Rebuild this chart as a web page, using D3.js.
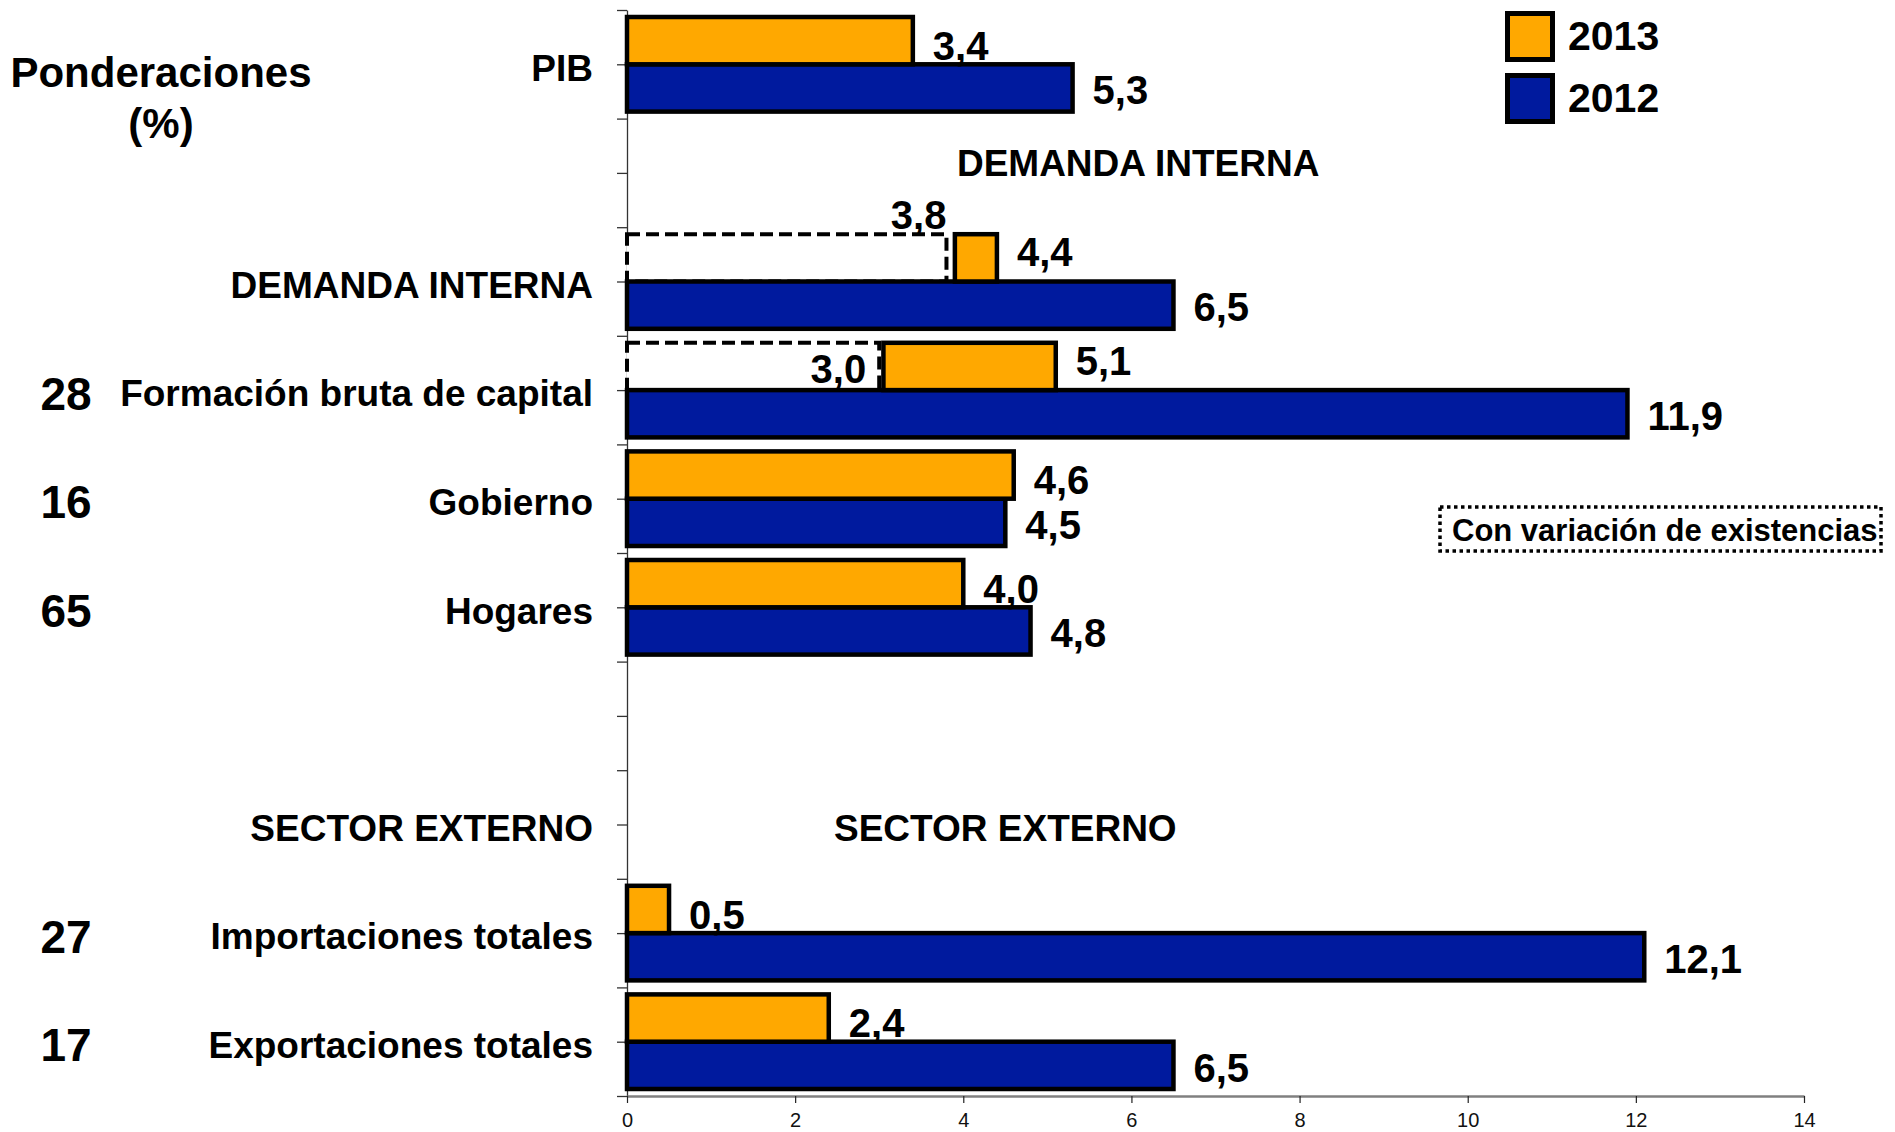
<!DOCTYPE html>
<html>
<head>
<meta charset="utf-8">
<script src="https://cdn.jsdelivr.net/npm/d3@7"></script>
<style>
  html, body { margin: 0; padding: 0; background: #fff; }
  svg { display: block; font-family: "Liberation Sans", Arial, sans-serif; }
</style>
</head>
<body>
<svg id="chart" width="1895" height="1132"></svg>
<script>
// ---- data ----
const categories = ["PIB", "", "DEMANDA INTERNA", "Formación bruta de capital", "Gobierno", "Hogares", "", "SECTOR EXTERNO", "Importaciones totales", "Exportaciones totales"];
const weights = [null, null, null, 28, 16, 65, null, null, 27, 17];
const values2013 = [3.4, null, 4.4, 5.1, 4.6, 4.0, null, null, 0.5, 2.4];
const values2012 = [5.3, null, 6.5, 11.9, 4.5, 4.8, null, null, 12.1, 6.5];
const sinVariacion2013 = [null, null, 3.8, 3.0, null, null, null, null, null, null];
const start2013 = [0, null, 3.9, 3.05, 0, 0, null, null, 0, 0];
const series = ["2013", "2012"];
const xTicks = [0, 2, 4, 6, 8, 10, 12, 14];
const weightTitle = ["Ponderaciones", "(%)"];
const noteText = "Con variación de existencias";
const sectionTitles = [
  { text: "DEMANDA INTERNA", cat: 1, value: 6.08 },
  { text: "SECTOR EXTERNO", cat: 7, value: 4.5 }
];

(function () {
// ---- styles ----
const colors = { "2013": "#FFA800", "2012": "#001A9E" };
const FONT = '"Liberation Sans", Arial, sans-serif';

const svg = d3.select("#chart");
const mLeft = 627, mRight = 1804, mTop = 10, mBottom = 1096;

const x = d3.scaleLinear().domain([0, 14]).range([mLeft, mRight]);
const idx = categories.map((d, i) => i);
const y = d3.scaleBand().domain(idx).range([mTop, mBottom]).paddingInner(0).paddingOuter(0);
const sub = d3.scaleBand().domain(series).range([7, y.bandwidth() - 7]).padding(0);
const rows = d3.scaleLinear().domain([0, categories.length * 2]).range([mTop, mBottom]);

const fmt = v => d3.format(".1f")(v).replace(".", ",");

// ---- axes ----
const yAxis = d3.axisLeft(rows)
  .tickValues(d3.range(0, categories.length * 2 + 1))
  .tickFormat("")
  .tickSize(10)
  .tickSizeOuter(0);
const gy = svg.append("g").attr("transform", `translate(${mLeft},0)`).call(yAxis);
gy.select(".domain").attr("stroke", "#333").attr("stroke-width", 1.3);
gy.selectAll(".tick line").attr("stroke", "#333").attr("stroke-width", 1.3);

const xAxis = d3.axisBottom(x).tickValues(xTicks).tickFormat(d3.format("d")).tickSize(7).tickSizeOuter(0).tickPadding(10);
const gx = svg.append("g").attr("transform", `translate(0,${mBottom})`).call(xAxis);
gx.select(".domain").attr("stroke", "#808080").attr("stroke-width", 2.5);
gx.selectAll(".tick line").attr("stroke", "#222").attr("stroke-width", 1.2);
gx.selectAll(".tick text").attr("font-family", FONT).attr("font-size", 20).attr("fill", "#111");

// ---- bars ----
const bars = svg.append("g");
const rec2012 = idx.filter(i => values2012[i] != null).map(i => ({ i, v: values2012[i], s: "2012" }));
const rec2013 = idx.filter(i => values2013[i] != null).map(i => ({ i, v: values2013[i], s: "2013", s0: start2013[i] }));

const dashed = idx.filter(i => sinVariacion2013[i] != null).map(i => ({ i, v: sinVariacion2013[i] }));
bars.selectAll("rect.dash").data(dashed).enter().append("rect")
  .attr("class", "dash")
  .attr("x", x(0))
  .attr("y", d => y(d.i) + sub("2013"))
  .attr("width", d => x(d.v) - x(0))
  .attr("height", sub.bandwidth())
  .attr("fill", "#fff")
  .attr("stroke", "#000")
  .attr("stroke-width", 4)
  .attr("stroke-dasharray", "13,6");

bars.selectAll("rect.b2012").data(rec2012).enter().append("rect")
  .attr("class", "b2012")
  .attr("x", x(0))
  .attr("y", d => y(d.i) + sub("2012"))
  .attr("width", d => x(d.v) - x(0))
  .attr("height", sub.bandwidth())
  .attr("fill", colors["2012"])
  .attr("stroke", "#000")
  .attr("stroke-width", 4.5);

bars.selectAll("rect.b2013").data(rec2013).enter().append("rect")
  .attr("class", "b2013")
  .attr("x", d => x(d.s0))
  .attr("y", d => y(d.i) + sub("2013"))
  .attr("width", d => x(d.v) - x(d.s0))
  .attr("height", sub.bandwidth())
  .attr("fill", colors["2013"])
  .attr("stroke", "#000")
  .attr("stroke-width", 4.5);

// ---- value labels ----
const labels = svg.append("g").attr("font-family", FONT).attr("font-weight", "bold").attr("font-size", 40).attr("fill", "#000");
const capOff = 40 * 0.358;
labels.selectAll("text.l2012").data(rec2012).enter().append("text")
  .attr("x", d => x(d.v) + 20)
  .attr("y", d => y(d.i) + sub("2012") + sub.bandwidth() / 2 + 2 + capOff)
  .text(d => fmt(d.v));
labels.selectAll("text.l2013").data(rec2013).enter().append("text")
  .attr("x", d => x(d.v) + 20)
  .attr("y", d => y(d.i) + sub("2013") + sub.bandwidth() / 2 + (sinVariacion2013[d.i] != null ? -6 : 5) + capOff)
  .text(d => fmt(d.v));
labels.selectAll("text.ldash").data(dashed).enter().append("text")
  .attr("text-anchor", "end")
  .attr("x", (d, k) => k === 0 ? x(d.v) : x(d.v) - 13)
  .attr("y", (d, k) => (k === 0 ? y(d.i) + sub("2013") - 20 : y(d.i) + sub("2013") + sub.bandwidth() / 2 + 2) + capOff)
  .text(d => fmt(d.v));

// ---- category labels ----
const catG = svg.append("g").attr("font-family", FONT).attr("font-weight", "bold").attr("fill", "#000");
catG.selectAll("text.cat").data(idx.filter(i => categories[i] !== "")).enter().append("text")
  .attr("text-anchor", "end")
  .attr("font-size", 37)
  .attr("x", mLeft - 34)
  .attr("y", i => y(i) + y.bandwidth() / 2 + 3 + 37 * 0.358)
  .text(i => categories[i]);

catG.selectAll("text.w").data(idx.filter(i => weights[i] != null)).enter().append("text")
  .attr("text-anchor", "middle")
  .attr("font-size", 46)
  .attr("x", 66)
  .attr("y", i => y(i) + y.bandwidth() / 2 + 3 + 46 * 0.358)
  .text(i => weights[i]);

catG.selectAll("text.wt").data(weightTitle).enter().append("text")
  .attr("text-anchor", "middle")
  .attr("font-size", 42)
  .attr("x", 161)
  .attr("y", (d, k) => 72 + k * 51 + 42 * 0.358)
  .text(d => d);

// section annotations inside plot
svg.append("g").attr("font-family", FONT).attr("font-weight", "bold").attr("font-size", 37)
  .selectAll("text").data(sectionTitles).enter().append("text")
  .attr("text-anchor", "middle")
  .attr("x", d => x(d.value))
  .attr("y", d => y(d.cat) + y.bandwidth() / 2 + (d.cat === 1 ? -10 : 3) + 37 * 0.358)
  .text(d => d.text);

// ---- legend ----
const leg = svg.append("g").attr("font-family", FONT).attr("font-weight", "bold");
leg.selectAll("rect").data(series).enter().append("rect")
  .attr("x", 1507.5)
  .attr("y", (d, k) => 13.5 + k * 62)
  .attr("width", 45)
  .attr("height", 46)
  .attr("fill", d => colors[d])
  .attr("stroke", "#000")
  .attr("stroke-width", 5);
leg.selectAll("text").data(series).enter().append("text")
  .attr("x", 1568)
  .attr("y", (d, k) => 35 + k * 62 + 41 * 0.358)
  .attr("font-size", 41)
  .text(d => d);

// ---- note box ----
const note = svg.append("g");
note.append("rect")
  .attr("x", 1440).attr("y", 507).attr("width", 441).attr("height", 44)
  .attr("fill", "#fff").attr("stroke", "#000").attr("stroke-width", 3.5)
  .attr("stroke-dasharray", "3.5,3.5");
note.append("text")
  .attr("x", 1452).attr("y", 530 + 31 * 0.358)
  .attr("font-family", FONT).attr("font-weight", "bold").attr("font-size", 31)
  .text(noteText);
})();
</script>
</body>
</html>
